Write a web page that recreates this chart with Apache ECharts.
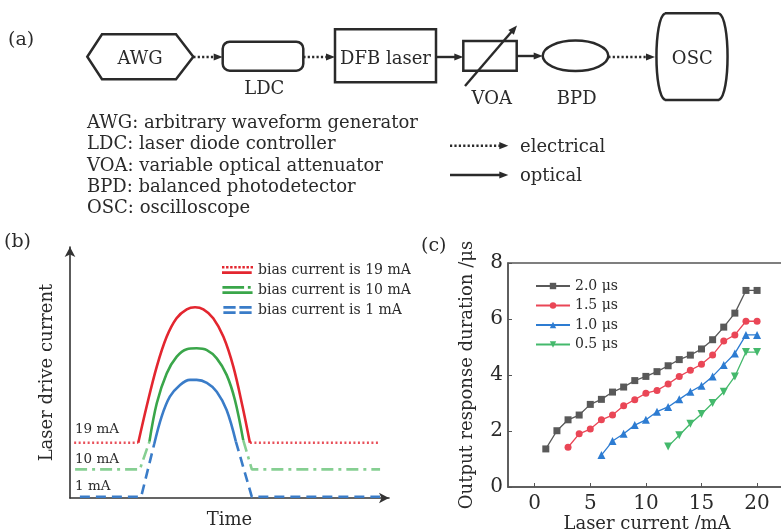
<!DOCTYPE html>
<html>
<head>
<meta charset="utf-8">
<script src="https://cdn.jsdelivr.net/npm/echarts@6/dist/echarts.min.js"></script>
<style>
  html, body { margin: 0; padding: 0; background: #fff; }
  #chart { width: 781px; height: 529px; }
</style>
</head>
<body>
<div id="chart"></div>
<script>
'use strict';

// (c) output response duration vs laser current
var currents = [1, 2, 3, 4, 5, 6, 7, 8, 9, 10, 11, 12, 13, 14, 15, 16, 17, 18, 19, 20];
var dur20 = [1.36, 2.01, 2.40, 2.57, 2.95, 3.13, 3.39, 3.57, 3.80, 3.95, 4.12, 4.33, 4.55, 4.71, 4.93, 5.26, 5.71, 6.21, 7.02, 7.02];
var dur15 = [1.42, 1.90, 2.07, 2.40, 2.57, 2.90, 3.12, 3.35, 3.45, 3.68, 3.95, 4.17, 4.38, 4.71, 5.21, 5.43, 5.92, 5.92];
var dur10 = [1.14, 1.64, 1.90, 2.21, 2.40, 2.69, 2.86, 3.13, 3.40, 3.62, 3.95, 4.36, 4.77, 5.43, 5.43];
var dur05 = [1.45, 1.85, 2.26, 2.61, 3.00, 3.40, 3.95, 4.82, 4.82];
var xTicks = [0, 5, 10, 15, 20];

// (b) schematic drive current: [time, current]
var redBase = [[1.3, 18.7], [21.4, 18.7], null, [56.4, 18.7], [97.2, 18.7]];
var redPulse = [[21.4, 18.7], [24.0, 30.9], [27.2, 44.5], [30.3, 54.6], [33.4, 60.9], [36.6, 63.9], [39.2, 64.6],
  [41.8, 63.9], [44.9, 60.9], [48.1, 54.6], [51.2, 44.5], [54.1, 30.9], [56.4, 18.7]];
var greenBase = [[1.6, 9.7], [21.9, 9.7], [24.9, 19.1], null, [54.3, 19.6], [57.0, 9.7], [97.2, 9.7]];
var greenPulse = [[24.9, 19.1], [27.2, 32.1], [30.3, 42.2], [33.4, 47.8], [36.6, 50.4], [39.7, 50.7],
  [42.9, 50.1], [46.0, 47.3], [49.1, 41.7], [51.7, 33.2], [54.3, 19.6]];
var blueBase = [[3.1, 0.4], [22.3, 0.4], [26.4, 18.3], null, [52.0, 19.1], [57.0, 0.4], [97.2, 0.4]];
var bluePulse = [[26.4, 18.3], [28.7, 27.5], [31.3, 34.3], [34.5, 38.3], [37.6, 40.0], [39.7, 40.0],
  [42.9, 39.0], [46.0, 36.0], [49.1, 29.8], [52.0, 19.1]];

var legendA = ['AWG: arbitrary waveform generator', 'LDC: laser diode controller',
  'VOA: variable optical attenuator', 'BPD: balanced photodetector', 'OSC: oscilloscope'];

var font = 'DejaVu Serif';
var ink = '#2a2a2a';

function pairs(xs, ys) {
  var off = xs.length - ys.length;
  return ys.map(function (v, i) { return [xs[i + off], v]; });
}

function txt(x, y, s, size, align) {
  return { type: 'text', x: x, y: y, style: { text: s, font: size + 'px "' + font + '"', fill: ink,
    textAlign: align || 'center', textVerticalAlign: 'middle' } };
}

function head(x, y, dx, dy) {
  var len = Math.sqrt(dx * dx + dy * dy);
  var ux = dx / len, uy = dy / len;
  var bx = x - ux * 9, by = y - uy * 9;
  return { type: 'polygon', shape: { points: [[x, y], [bx - uy * 3.6, by + ux * 3.6], [bx + uy * 3.6, by - ux * 3.6]] },
    style: { fill: ink } };
}

function arrow(x1, x2, y, dotted) {
  return [
    { type: 'line', shape: { x1: x1, y1: y, x2: x2 - 6, y2: y },
      style: { stroke: ink, lineWidth: 2.4, lineDash: dotted ? [2.2, 2.2] : null } },
    head(x2, y, 1, 0)
  ];
}

function box(shapeType, shape) {
  return { type: shapeType, shape: shape, style: { fill: 'none', stroke: ink, lineWidth: 2.5 } };
}

function dotIcon() {
  var p = 'path://';
  for (var x = 0; x < 32; x += 4.4) p += 'M' + x + ',0h2.6v2.6h-2.6z';
  return p + 'M0,5.5h32v3h-32z';
}

var graphics = [
  txt(8, 40, '(a)', 19, 'left'),
  box('polygon', { points: [[87.3, 56.7], [102, 34.3], [176, 34.3], [193.3, 56.7], [176, 79.3], [102, 79.3]] }),
  txt(140, 59, 'AWG', 18),
  box('rect', { x: 222.7, y: 41.7, width: 80.6, height: 29, r: 7 }),
  txt(264.3, 89, 'LDC', 18),
  box('rect', { x: 335, y: 29.3, width: 101, height: 53 }),
  txt(385.5, 59, 'DFB laser', 18),
  box('rect', { x: 463.3, y: 41, width: 53.4, height: 29.7 }),
  { type: 'line', shape: { x1: 465, y1: 86, x2: 512, y2: 31.3 }, style: { stroke: ink, lineWidth: 2.4 } },
  head(517, 25.5, 51, -59.3),
  txt(491.7, 99, 'VOA', 18),
  box('ellipse', { cx: 575.5, cy: 55.8, rx: 32.8, ry: 15.2 }),
  txt(576.7, 99, 'BPD', 18),
  box('line', { x1: 665, y1: 13.3, x2: 719, y2: 13.3 }),
  box('line', { x1: 665, y1: 100, x2: 719, y2: 100 }),
  box('bezierCurve', { x1: 665, y1: 13.3, cpx1: 653.6, cpy1: 18, cpx2: 653.6, cpy2: 95, x2: 665, y2: 100 }),
  box('bezierCurve', { x1: 719, y1: 13.3, cpx1: 730.4, cpy1: 18, cpx2: 730.4, cpy2: 95, x2: 719, y2: 100 }),
  txt(692.3, 59, 'OSC', 18),
  txt(520, 147, 'electrical', 18, 'left'),
  txt(520, 176.5, 'optical', 18, 'left'),
  txt(4, 242, '(b)', 19, 'left'),
  txt(75, 429, '19 mA', 13.5, 'left'),
  txt(75, 459.5, '10 mA', 13.5, 'left'),
  txt(75, 486.5, '1 mA', 13.5, 'left'),
  txt(421, 246, '(c)', 19, 'left')
];
legendA.forEach(function (s, i) { graphics.push(txt(87, 123.5 + i * 21.2, s, 18, 'left')); });
graphics = graphics
  .concat(arrow(193.3, 222.7, 57, true))
  .concat(arrow(303.3, 335, 57, true))
  .concat(arrow(436, 463.3, 57, false))
  .concat(arrow(516.7, 542.7, 56, false))
  .concat(arrow(608.3, 655, 57, true))
  .concat(arrow(450, 508.3, 145.7, true))
  .concat(arrow(450, 508.3, 175, false));

var red = '#e3262f', green = '#3aa64a', lightGreen = '#86cf92', blue = '#3a7cc8';
var cGray = '#595959', cRed = '#ea4656', cBlue = '#2d7cd2', cGreen = '#44b96c';

function cSeries(name, data, color, symbol, rotate) {
  return { name: name, type: 'line', xAxisIndex: 1, yAxisIndex: 1, data: data, symbol: symbol,
    symbolSize: symbol === 'triangle' ? 8 : 7, symbolRotate: rotate || 0,
    lineStyle: { color: color, width: 1.3 }, itemStyle: { color: color }, animation: false };
}

function bSeries(name, data, color, type, smooth) {
  return { name: name, type: 'line', xAxisIndex: 0, yAxisIndex: 0, data: data, showSymbol: false,
    symbol: 'none', smooth: smooth, connectNulls: false,
    lineStyle: { color: color, width: 2.6, type: type }, itemStyle: { color: color }, animation: false };
}

var chart = echarts.init(document.getElementById('chart'));
chart.setOption({
  backgroundColor: '#fff',
  animation: false,
  textStyle: { fontFamily: font, color: ink },
  graphic: { elements: graphics },
  grid: [
    { left: 70, top: 247, width: 319, height: 251, outerBoundsMode: 'none', containLabel: false },
    { left: 508, top: 263, width: 278, height: 224, outerBoundsMode: 'none', containLabel: false,
      show: true, borderColor: '#555', borderWidth: 1.5 }
  ],
  legend: [
    { orient: 'vertical', left: 222, top: 263, padding: 0, itemWidth: 31, itemHeight: 8, itemGap: 6,
      textStyle: { fontFamily: font, fontSize: 14, color: ink },
      data: [
        { name: 'bias current is 19 mA', icon: dotIcon() },
        { name: 'bias current is 10 mA', icon: 'path://M0,0h23v3h-23z M27,0h3v3h-3z M0,5.5h32v3h-32z' },
        { name: 'bias current is 1 mA', icon: 'path://M0,0h13v3h-13z M17,0h13v3h-13z M0,5.5h13v3h-13z M17,5.5h13v3h-13z' }
      ] },
    { orient: 'vertical', left: 535, top: 279, padding: 0, itemWidth: 34, itemHeight: 8, itemGap: 5.5,
      textStyle: { fontFamily: font, fontSize: 14, color: ink },
      data: ['2.0 μs', '1.5 μs', '1.0 μs', '0.5 μs'] }
  ],
  xAxis: [
    { type: 'value', gridIndex: 0, min: 0, max: 100, name: 'Time', nameLocation: 'middle', nameGap: 13,
      nameTextStyle: { fontFamily: font, fontSize: 18, color: ink },
      axisLine: { onZero: false, lineStyle: { color: '#333', width: 1.6 }, symbol: ['none', 'arrow'], symbolSize: [8, 10] },
      axisTick: { show: false }, axisLabel: { show: false }, splitLine: { show: false } },
    { type: 'value', gridIndex: 1, min: -2.4, max: 22.6, name: 'Laser current /mA', nameLocation: 'middle', nameGap: 27,
      nameTextStyle: { fontFamily: font, fontSize: 18, color: ink },
      axisLine: { onZero: false, lineStyle: { color: '#555', width: 1.5 } },
      axisTick: { inside: true, length: 4, customValues: xTicks, lineStyle: { color: '#555' } },
      axisLabel: { customValues: xTicks, margin: 7, fontFamily: font, fontSize: 20, color: ink },
      splitLine: { show: false } }
  ],
  yAxis: [
    { type: 'value', gridIndex: 0, min: 0, max: 85, name: 'Laser drive current', nameLocation: 'middle', nameGap: 14,
      nameRotate: 90, nameTextStyle: { fontFamily: font, fontSize: 18, color: ink },
      axisLine: { onZero: false, lineStyle: { color: '#333', width: 1.6 }, symbol: ['none', 'arrow'], symbolSize: [8, 10] },
      axisTick: { show: false }, axisLabel: { show: false }, splitLine: { show: false } },
    { type: 'value', gridIndex: 1, min: 0, max: 8, interval: 2, name: 'Output response duration /μs',
      nameLocation: 'middle', nameGap: 32, nameRotate: 90,
      nameTextStyle: { fontFamily: font, fontSize: 18, color: ink },
      axisLine: { onZero: false, lineStyle: { color: '#555', width: 1.5 } },
      axisTick: { inside: true, length: 4, lineStyle: { color: '#555' } },
      axisLabel: { margin: 5, fontFamily: font, fontSize: 20, color: ink },
      splitLine: { show: false } }
  ],
  series: [
    bSeries('red base', redBase, '#e8505a', [2, 2.5], false),
    bSeries('green base', greenBase, lightGreen, [12, 5, 3, 5], false),
    bSeries('blue base', blueBase, blue, [10, 6], false),
    bSeries('bias current is 19 mA', redPulse, red, 'solid', 0.35),
    bSeries('bias current is 10 mA', greenPulse, green, 'solid', 0.35),
    bSeries('bias current is 1 mA', bluePulse, blue, 'solid', 0.35),
    cSeries('2.0 μs', pairs(currents, dur20), cGray, 'rect'),
    cSeries('1.5 μs', pairs(currents, dur15), cRed, 'circle'),
    cSeries('1.0 μs', pairs(currents, dur10), cBlue, 'triangle'),
    cSeries('0.5 μs', pairs(currents, dur05), cGreen, 'triangle', 180)
  ]
});
</script>
</body>
</html>
